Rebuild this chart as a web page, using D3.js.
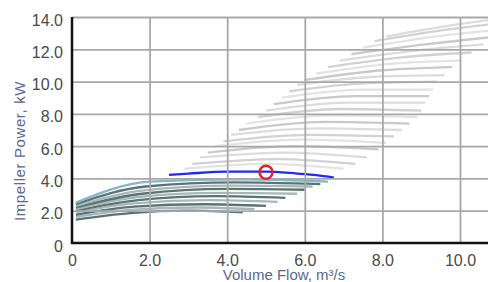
<!DOCTYPE html>
<html lang="en">
<head>
  <meta charset="UTF-8" />
  <title>Impeller Power</title>
  <style>
    body { margin: 0; background: #fff; }
    text { font-family: "Liberation Sans", Arial, sans-serif; }
    .tick text { font-size: 16px; fill: #4a4a4a; }
    .grid line { stroke: #a8a8a8; stroke-width: 1.8px; }
    .curve { fill: none; stroke-width: 2.3px; }
    .title { font-size: 15px; fill: #5b6794; }
  </style>
  <script src="https://d3js.org/d3.v7.min.js"></script>
</head>
<body>
  <div id="chart"></div>
  <script type="text/javascript">
    const xTicks = [0, 2, 4, 6, 8, 10];
    const xTickLabels = ["0", "2.0", "4.0", "6.0", "8.0", "10.0"];
    const yTicks = [0, 2, 4, 6, 8, 10, 12, 14];
    const yTickLabels = ["0", "2.0", "4.0", "6.0", "8.0", "10.0", "12.0", "14.0"];

    // light grey family (upper speeds)
    const lightCurves = [
      [[2.9, 4.6], [5.0, 4.9], [7.0, 4.6]],
      [[3.1, 4.9], [5.3, 5.2], [7.3, 4.9]],
      [[3.3, 5.3], [5.5, 5.6], [7.6, 5.3]],
      [[3.5, 5.6], [5.7, 6.0], [7.9, 5.8]],
      [[3.7, 6.0], [5.9, 6.4], [8.1, 6.2]],
      [[3.9, 6.3], [6.1, 6.7], [8.3, 6.6]],
      [[4.1, 6.7], [6.3, 7.1], [8.5, 7.0]],
      [[4.3, 7.0], [6.5, 7.5], [8.7, 7.4]],
      [[4.5, 7.4], [6.7, 7.9], [8.9, 7.8]],
      [[4.8, 7.8], [6.9, 8.3], [9.0, 8.2]],
      [[5.0, 8.2], [7.1, 8.7], [9.1, 8.7]],
      [[5.2, 8.6], [7.3, 9.1], [9.2, 9.1]],
      [[5.4, 9.0], [7.5, 9.5], [9.3, 9.5]],
      [[5.6, 9.4], [7.6, 9.9], [9.4, 10.0]],
      [[5.8, 9.8], [7.8, 10.3], [9.6, 10.4]],
      [[6.0, 10.1], [8.0, 10.7], [9.8, 10.9]],
      [[6.3, 10.5], [8.2, 11.1], [10.0, 11.3]],
      [[6.6, 10.9], [8.5, 11.5], [10.3, 11.8]],
      [[6.9, 11.3], [8.8, 11.9], [10.6, 12.3]],
      [[7.2, 11.7], [9.1, 12.3], [11.0, 12.8]],
      [[7.5, 12.1], [9.4, 12.8], [11.0, 13.2]],
      [[7.8, 12.5], [9.6, 13.2], [11.0, 13.6]],
      [[8.1, 12.8], [9.8, 13.5], [11.0, 13.9]]
    ];
    const lightColors = ["#e3e3e3", "#d2d2d2", "#dcdcdc", "#c9c9c9"];

    // dark slate family (lower speeds)
    const darkCurves = [
      [[0.1, 1.45], [1.5, 1.85], [3.0, 2.0], [4.4, 1.9]],
      [[0.1, 1.6], [1.5, 2.05], [3.2, 2.2], [4.7, 2.1]],
      [[0.1, 1.75], [1.6, 2.25], [3.4, 2.4], [5.0, 2.3]],
      [[0.1, 1.9], [1.6, 2.45], [3.5, 2.65], [5.3, 2.55]],
      [[0.1, 2.0], [1.7, 2.65], [3.7, 2.9], [5.5, 2.8]],
      [[0.1, 2.1], [1.7, 2.85], [3.8, 3.1], [5.8, 3.05]],
      [[0.1, 2.2], [1.8, 3.05], [4.0, 3.35], [6.0, 3.3]],
      [[0.1, 2.3], [1.8, 3.25], [4.1, 3.55], [6.2, 3.5]],
      [[0.1, 2.4], [1.9, 3.5], [4.2, 3.75], [6.4, 3.65]],
      [[0.1, 2.5], [2.0, 3.8], [4.4, 3.95], [6.6, 3.8]]
    ];

    const operatingCurve = [[2.5, 4.22], [3.0, 4.3], [4.0, 4.42], [5.0, 4.42], [5.8, 4.3], [6.3, 4.2], [6.75, 4.05]];
    const operatingPoint = [5.0, 4.38];

    const W = 488, H = 282;
    const plot = { left: 72, top: 17, bottom: 243 };

    const x = d3.scaleLinear().domain([0, 10]).range([plot.left, 460]);
    const y = d3.scaleLinear().domain([0, 14]).range([plot.bottom, plot.top]);

    const svg = d3.select("#chart").append("svg")
      .attr("width", W)
      .attr("height", H);

    svg.append("clipPath").attr("id", "plot-clip")
      .append("rect")
      .attr("x", plot.left)
      .attr("y", plot.top - 2)
      .attr("width", W - plot.left)
      .attr("height", plot.bottom - plot.top + 2);

    const line = d3.line()
      .x(d => x(d[0]))
      .y(d => y(d[1]))
      .curve(d3.curveMonotoneX);

    const curves = svg.append("g").attr("clip-path", "url(#plot-clip)");

    curves.selectAll(".light")
      .data(lightCurves)
      .enter().append("path")
      .attr("class", "curve light")
      .attr("d", line)
      .attr("stroke", (d, i) => lightColors[i % lightColors.length]);

    curves.selectAll(".dark")
      .data(darkCurves)
      .enter().append("path")
      .attr("class", "curve dark")
      .attr("d", line)
      .attr("stroke", (d, i) => i === darkCurves.length - 1 ? "#86b6cf" : (i % 2 ? "#a7b8b8" : "#5a7474"));

    // grid drawn over the grey curves, they show through in the original
    svg.append("g")
      .attr("class", "grid")
      .attr("transform", `translate(0,${plot.bottom})`)
      .call(d3.axisBottom(x).tickValues(xTicks.slice(1)).tickSize(-(plot.bottom - plot.top)).tickFormat(""))
      .call(g => g.select(".domain").remove());

    svg.append("g")
      .attr("class", "grid")
      .attr("transform", `translate(${plot.left},0)`)
      .call(d3.axisLeft(y).tickValues(yTicks.slice(1)).tickSize(-(W - plot.left)).tickFormat(""))
      .call(g => g.select(".domain").remove());

    curves.append("path")
      .datum(operatingCurve)
      .attr("class", "curve")
      .attr("d", line)
      .attr("stroke", "#1f2bf0")
      .attr("stroke-width", 3);

    svg.append("circle")
      .attr("cx", x(operatingPoint[0]))
      .attr("cy", y(operatingPoint[1]))
      .attr("r", 6.5)
      .attr("fill", "none")
      .attr("stroke", "#e5202a")
      .attr("stroke-width", 2.5);

    // axes
    svg.append("g")
      .attr("transform", `translate(0,${plot.bottom})`)
      .call(d3.axisBottom(x).tickValues(xTicks).tickFormat((d, i) => xTickLabels[i]).tickSize(0).tickPadding(12))
      .call(g => g.select(".domain").remove());

    svg.append("g")
      .attr("transform", `translate(${plot.left},0)`)
      .call(d3.axisLeft(y).tickValues(yTicks).tickFormat((d, i) => yTickLabels[i]).tickSize(0).tickPadding(9))
      .call(g => g.select(".domain").remove())
      .call(g => g.selectAll("text").attr("dy", "0.5em"));

    svg.append("line")
      .attr("x1", plot.left).attr("x2", plot.left)
      .attr("y1", plot.top).attr("y2", plot.bottom + 1)
      .attr("stroke", "#111").attr("stroke-width", 2.5);

    svg.append("line")
      .attr("x1", plot.left - 1).attr("x2", W)
      .attr("y1", plot.bottom).attr("y2", plot.bottom)
      .attr("stroke", "#111").attr("stroke-width", 2.5);

    svg.append("text")
      .attr("class", "title")
      .attr("x", 284)
      .attr("y", 280)
      .attr("text-anchor", "middle")
      .text("Volume Flow, m³/s");

    svg.append("text")
      .attr("class", "title")
      .attr("transform", "translate(25,151) rotate(-90)")
      .attr("text-anchor", "middle")
      .style("letter-spacing", "0.6px")
      .text("Impeller Power, kW");
  </script>
</body>
</html>
